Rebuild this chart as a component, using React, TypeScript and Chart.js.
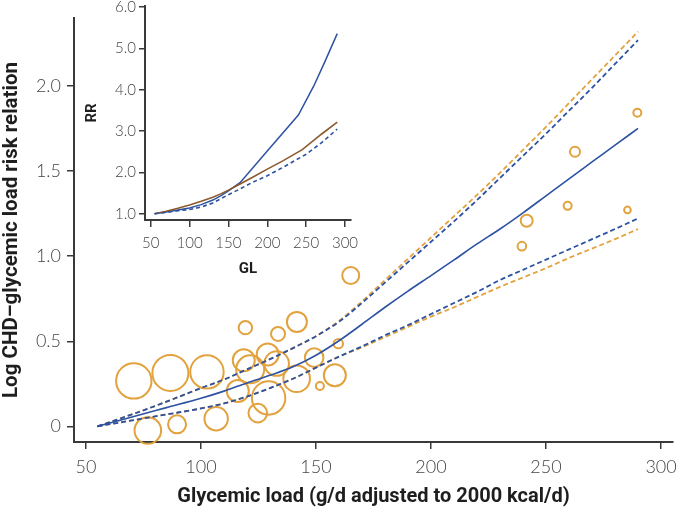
import React, { useEffect, useRef } from "react";
import { Chart, registerables } from "chart.js";

Chart.register(...registerables);

const ORANGE = "#E2A23E";
const BLUE = "#2D52A2";
const BROWN = "#8C5A2E";
const AXIS = "#3a3a3a";
const TICK_COLOR = "#444444";
const TITLE_COLOR = "#1e1e1e";
const TICK_FONT = "Lato, 'Open Sans', sans-serif";
const TITLE_FONT = "Roboto, 'Noto Sans', sans-serif";

// ---------- main chart data ----------
const curveGL = [55, 70, 85, 100, 110, 120, 130, 140, 150, 160, 170, 180, 190, 200, 210, 220, 230, 240, 250, 260, 270, 280, 290];
const blueFit = [0, 0.055, 0.11, 0.165, 0.207, 0.255, 0.3, 0.35, 0.418, 0.503, 0.6, 0.7, 0.795, 0.886, 0.978, 1.072, 1.16, 1.255, 1.355, 1.455, 1.554, 1.653, 1.751];
const blueUpper = [0, 0.07, 0.145, 0.225, 0.275, 0.335, 0.395, 0.46, 0.53, 0.615, 0.725, 0.845, 0.965, 1.085, 1.205, 1.33, 1.46, 1.59, 1.72, 1.855, 1.99, 2.13, 2.27];
const blueLower = [0, 0.035, 0.07, 0.105, 0.135, 0.175, 0.225, 0.28, 0.345, 0.41, 0.47, 0.535, 0.595, 0.66, 0.725, 0.79, 0.86, 0.92, 0.98, 1.04, 1.1, 1.16, 1.222];
const orangeUpper = [0, 0.07, 0.145, 0.225, 0.275, 0.335, 0.395, 0.46, 0.53, 0.62, 0.735, 0.86, 0.985, 1.11, 1.235, 1.36, 1.49, 1.625, 1.76, 1.9, 2.04, 2.18, 2.32];
const orangeLower = [0, 0.035, 0.07, 0.105, 0.135, 0.175, 0.225, 0.28, 0.345, 0.41, 0.465, 0.525, 0.585, 0.645, 0.7, 0.76, 0.82, 0.875, 0.93, 0.99, 1.045, 1.1, 1.16];

const studyGL = [70.8, 86.7, 102.6, 76.9, 89.6, 106.6, 116, 118.6, 121.4, 119.3, 129, 133.5, 132.9, 129.4, 124.7, 141.7, 141.6, 149.2, 151.7, 159.7, 158.2, 165.1, 239.5, 241.6, 259.4, 262.6, 285.4, 289.7];
const studyLogRR = [0.267, 0.314, 0.32, -0.024, 0.012, 0.045, 0.208, 0.388, 0.335, 0.58, 0.422, 0.543, 0.369, 0.167, 0.078, 0.614, 0.28, 0.404, 0.237, 0.486, 0.3, 0.887, 1.059, 1.208, 1.296, 1.614, 1.272, 1.843];
const studyWeight = [17.7, 18, 16.7, 13.3, 9, 11.7, 11, 11, 14, 6.7, 11, 7, 12.3, 16.7, 9.3, 10, 13.3, 9.3, 4, 4.7, 11, 8.5, 4.3, 6, 4, 5, 3.3, 4];

const mainXTicks = [50, 100, 150, 200, 250, 300];
const mainYTicks = [0, 0.5, 1.0, 1.5, 2.0];
const mainXTitle = "Glycemic load (g/d adjusted to 2000 kcal/d)";
const mainYTitle = "Log CHD\u2013glycemic load risk relation";

// ---------- inset data ----------
const insetBlueGL = [55, 70, 85, 100, 115, 130, 140, 150, 165, 200, 240, 260, 275, 290];
const insetBlueRR = [1.0, 1.04, 1.09, 1.14, 1.22, 1.33, 1.43, 1.55, 1.75, 2.52, 3.39, 4.1, 4.72, 5.36];
const insetBrownGL = [55, 70, 85, 100, 115, 130, 140, 150, 165, 180, 200, 220, 245, 270, 290];
const insetBrownRR = [1.0, 1.06, 1.13, 1.21, 1.3, 1.4, 1.48, 1.57, 1.72, 1.87, 2.08, 2.28, 2.55, 2.93, 3.22];
const insetDashGL = [55, 70, 85, 100, 115, 130, 150, 165, 180, 200, 220, 250, 270, 290];
const insetDashRR = [1.0, 1.03, 1.07, 1.1, 1.16, 1.26, 1.46, 1.6, 1.75, 1.92, 2.12, 2.44, 2.72, 3.05];
const insetXTicks = [50, 100, 150, 200, 250, 300];
const insetYTicks = [1, 2, 3, 4, 5, 6];

const zip = (xs: number[], ys: number[]) => xs.map((x, i) => ({ x, y: ys[i] }));

function lineDs(xs: number[], ys: number[], color: string, width: number, dash: number[], smooth = true) {
  return {
    type: "line" as const,
    data: zip(xs, ys),
    borderColor: color,
    backgroundColor: color,
    borderWidth: width,
    borderDash: dash,
    pointRadius: 0,
    fill: false,
    tension: smooth ? 0.4 : 0,
    cubicInterpolationMode: smooth ? ("monotone" as const) : ("default" as const),
    clip: false as any,
  };
}

const fixX = (h: number) => (s: any) => {
  s.height = h;
  s.paddingLeft = 0;
  s.paddingRight = 0;
};
const fixY = (w: number) => (s: any) => {
  s.width = w;
  s.paddingTop = 0;
  s.paddingBottom = 0;
};

export default function App() {
  const mainRef = useRef<HTMLCanvasElement | null>(null);
  const insetRef = useRef<HTMLCanvasElement | null>(null);

  useEffect(() => {
    if (!mainRef.current || !insetRef.current) return;

    const main = new Chart(mainRef.current, {
      type: "bubble",
      data: {
        datasets: [
          lineDs(curveGL, blueFit, BLUE, 1.6, []),
          lineDs(curveGL, blueUpper, BLUE, 1.8, [5, 3]),
          lineDs(curveGL, blueLower, BLUE, 1.8, [5, 3]),
          lineDs(curveGL, orangeUpper, ORANGE, 1.8, [5, 3]),
          lineDs(curveGL, orangeLower, ORANGE, 1.8, [5, 3]),
          {
            type: "bubble" as const,
            data: studyGL.map((x, i) => ({ x, y: studyLogRR[i], r: studyWeight[i] })),
            borderColor: ORANGE,
            backgroundColor: "rgba(0,0,0,0)",
            borderWidth: 2,
            clip: false as any,
          },
        ] as any,
      },
      options: {
        animation: false,
        responsive: false,
        maintainAspectRatio: false,
        events: [],
        layout: { autoPadding: false, padding: { left: 0, top: 18, right: 6, bottom: 0 } },
        plugins: { legend: { display: false }, tooltip: { enabled: false } },
        scales: {
          x: {
            type: "linear",
            min: 44.8,
            max: 305.2,
            afterBuildTicks: (s: any) => {
              s.ticks = mainXTicks.map((v) => ({ value: v }));
            },
            afterFit: fixX(72),
            grid: { display: true, drawOnChartArea: false, drawTicks: true, tickLength: 7, color: AXIS, lineWidth: 1.5 },
            border: { display: true, color: AXIS, width: 2 },
            ticks: {
              color: TICK_COLOR,
              font: { family: TICK_FONT, size: 18, weight: "300" as any },
              padding: 7,
              maxRotation: 0,
              autoSkip: false,
              callback: (v: any) => String(v),
            },
            title: {
              display: true,
              text: mainXTitle,
              color: TITLE_COLOR,
              font: { family: TITLE_FONT, size: 20, weight: "bold" as any },
              padding: { top: 0, bottom: 5 },
            },
          },
          y: {
            type: "linear",
            min: -0.092,
            max: 2.4,
            afterBuildTicks: (s: any) => {
              s.ticks = mainYTicks.map((v) => ({ value: v }));
            },
            afterFit: fixY(74),
            grid: { display: true, drawOnChartArea: false, drawTicks: true, tickLength: 7, color: AXIS, lineWidth: 1.5 },
            border: { display: true, color: AXIS, width: 2 },
            ticks: {
              color: TICK_COLOR,
              font: { family: TICK_FONT, size: 18, weight: "300" as any },
              padding: 6,
              autoSkip: false,
              callback: (v: any) => (v === 0 ? "0" : Number(v).toFixed(1)),
            },
            title: {
              display: true,
              text: mainYTitle,
              color: TITLE_COLOR,
              font: { family: TITLE_FONT, size: 20.5, weight: "bold" as any },
              padding: { top: 0, bottom: 0 },
            },
          },
        },
      } as any,
    });

    const inset = new Chart(insetRef.current, {
      type: "line",
      data: {
        datasets: [
          lineDs(insetDashGL, insetDashRR, BLUE, 1.6, [4, 3], false),
          lineDs(insetBrownGL, insetBrownRR, BROWN, 1.6, [], false),
          lineDs(insetBlueGL, insetBlueRR, BLUE, 1.5, [], false),
        ] as any,
      },
      options: {
        animation: false,
        responsive: false,
        maintainAspectRatio: false,
        events: [],
        layout: { autoPadding: false, padding: { left: 0, top: 6, right: 29, bottom: 0 } },
        plugins: { legend: { display: false }, tooltip: { enabled: false } },
        scales: {
          x: {
            type: "linear",
            min: 42.7,
            max: 307.7,
            afterBuildTicks: (s: any) => {
              s.ticks = insetXTicks.map((v) => ({ value: v }));
            },
            afterFit: fixX(70),
            grid: { display: true, drawOnChartArea: false, drawTicks: true, tickLength: 7, color: AXIS, lineWidth: 1.5 },
            border: { display: true, color: AXIS, width: 2 },
            ticks: {
              color: TICK_COLOR,
              font: { family: TICK_FONT, size: 15, weight: "300" as any },
              padding: 7,
              maxRotation: 0,
              autoSkip: false,
              callback: (v: any) => String(v),
            },
            title: {
              display: true,
              text: "GL",
              color: TITLE_COLOR,
              font: { family: TITLE_FONT, size: 15, weight: "bold" as any },
              padding: { top: 0, bottom: 12 },
            },
          },
          y: {
            type: "linear",
            min: 0.847,
            max: 6.03,
            afterBuildTicks: (s: any) => {
              s.ticks = insetYTicks.map((v) => ({ value: v }));
            },
            afterFit: fixY(85),
            grid: { display: true, drawOnChartArea: false, drawTicks: true, tickLength: 6, color: AXIS, lineWidth: 1.5 },
            border: { display: true, color: AXIS, width: 2 },
            ticks: {
              color: TICK_COLOR,
              font: { family: TICK_FONT, size: 15, weight: "300" as any },
              padding: 3,
              autoSkip: false,
              callback: (v: any) => Number(v).toFixed(1),
            },
            title: {
              display: true,
              text: "RR",
              color: TITLE_COLOR,
              font: { family: TITLE_FONT, size: 15, weight: "bold" as any },
              padding: { top: 23, bottom: 0 },
            },
          },
        },
      } as any,
    });

    return () => {
      main.destroy();
      inset.destroy();
    };
  }, []);

  return (
    <div style={{ position: "absolute", left: 0, top: 0, width: 679, height: 514, overflow: "hidden", background: "#ffffff" }}>
      <canvas ref={mainRef} width={679} height={514} style={{ position: "absolute", left: 0, top: 0, width: 679, height: 514 }} />
      <canvas ref={insetRef} width={320} height={290} style={{ position: "absolute", left: 60, top: 0, width: 320, height: 290 }} />
    </div>
  );
}
